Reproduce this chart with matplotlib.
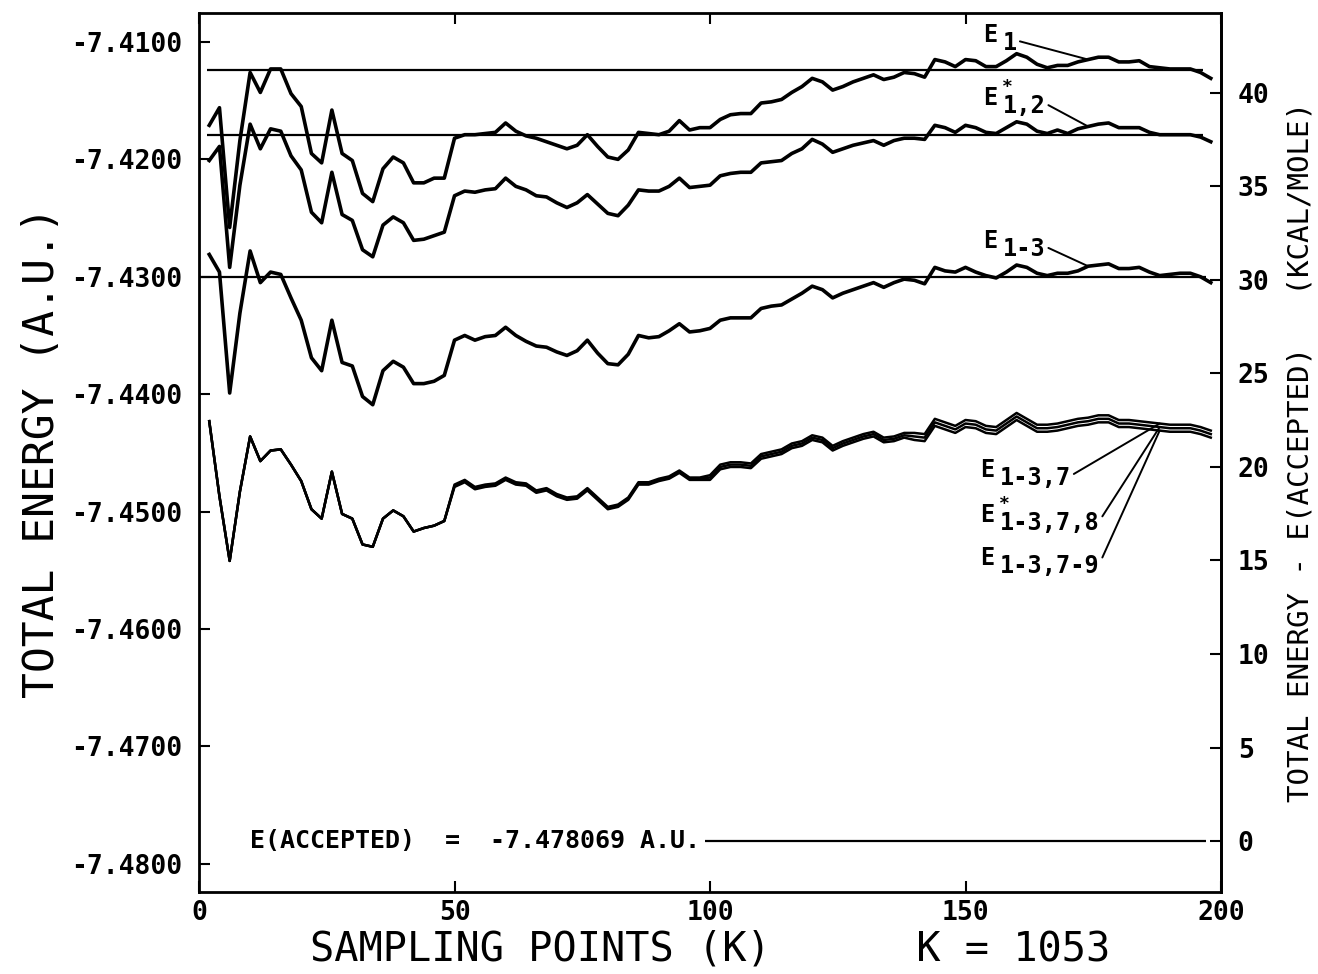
import numpy as np
import matplotlib.pyplot as plt
from matplotlib.ticker import FormatStrFormatter
from matplotlib.transforms import offset_copy

plt.rcParams["font.family"] = "DejaVu Sans Mono"
plt.rcParams["axes.unicode_minus"] = False

# sampling points K (every 2nd point)
K = np.arange(2, 199, 2)

E_ACC = -7.478069          # accepted total energy, a.u.
HARTREE_KCAL = 627.5       # kcal/mol per hartree

# final (converged) values, drawn as horizontal reference lines
E1_FINAL = -7.41235
E12_FINAL = -7.4179
E13_FINAL = -7.4300

E1 = [-7.4171, -7.4156, -7.4258, -7.4184, -7.4126, -7.4143, -7.4123, -7.4123, -7.4144, -7.4155,
      -7.4195, -7.4203, -7.4158, -7.4195, -7.4201, -7.4229, -7.4236, -7.4208, -7.4198, -7.4203,
      -7.4220, -7.4220, -7.4216, -7.4216, -7.4182, -7.4179, -7.4179, -7.4178, -7.4177, -7.4169,
      -7.4176, -7.4180, -7.4182, -7.4185, -7.4188, -7.4191, -7.4188, -7.4179, -7.4189, -7.4198,
      -7.4200, -7.4192, -7.4177, -7.4178, -7.4179, -7.4176, -7.4167, -7.4175, -7.4173, -7.4173,
      -7.4166, -7.4162, -7.4161, -7.4161, -7.4152, -7.4151, -7.4149, -7.4143, -7.4138, -7.4131,
      -7.4134, -7.4141, -7.4138, -7.4134, -7.4131, -7.4128, -7.4132, -7.4130, -7.4126, -7.4127,
      -7.4130, -7.4115, -7.4117, -7.4121, -7.4115, -7.4116, -7.4121, -7.4121, -7.4116, -7.4110,
      -7.4113, -7.4119, -7.4122, -7.4120, -7.4120, -7.4117, -7.4115, -7.4113, -7.4113, -7.4117,
      -7.4117, -7.4116, -7.4121, -7.4122, -7.4123, -7.4123, -7.4123, -7.4126, -7.4131]

E12 = [-7.4201, -7.4189, -7.4292, -7.4222, -7.4170, -7.4191, -7.4174, -7.4176, -7.4197, -7.4209,
       -7.4245, -7.4254, -7.4211, -7.4247, -7.4252, -7.4277, -7.4283, -7.4256, -7.4249, -7.4254,
       -7.4269, -7.4268, -7.4265, -7.4262, -7.4231, -7.4227, -7.4228, -7.4226, -7.4225, -7.4216,
       -7.4223, -7.4226, -7.4231, -7.4232, -7.4237, -7.4241, -7.4237, -7.4230, -7.4238, -7.4246,
       -7.4248, -7.4239, -7.4226, -7.4227, -7.4227, -7.4223, -7.4216, -7.4224, -7.4223, -7.4222,
       -7.4214, -7.4212, -7.4211, -7.4211, -7.4203, -7.4202, -7.4201, -7.4195, -7.4191, -7.4183,
       -7.4187, -7.4194, -7.4191, -7.4188, -7.4186, -7.4184, -7.4188, -7.4184, -7.4182, -7.4182,
       -7.4183, -7.4171, -7.4173, -7.4177, -7.4171, -7.4173, -7.4177, -7.4178, -7.4173, -7.4168,
       -7.4170, -7.4176, -7.4178, -7.4175, -7.4178, -7.4174, -7.4172, -7.4170, -7.4169, -7.4173,
       -7.4173, -7.4173, -7.4177, -7.4179, -7.4179, -7.4179, -7.4179, -7.4181, -7.4185]

E13 = [-7.4281, -7.4296, -7.4399, -7.4331, -7.4278, -7.4305, -7.4296, -7.4298, -7.4318, -7.4337,
       -7.4369, -7.4380, -7.4337, -7.4373, -7.4376, -7.4402, -7.4409, -7.4380, -7.4372, -7.4377,
       -7.4391, -7.4391, -7.4389, -7.4384, -7.4354, -7.4350, -7.4354, -7.4351, -7.4350, -7.4343,
       -7.4350, -7.4355, -7.4359, -7.4360, -7.4364, -7.4367, -7.4363, -7.4354, -7.4365, -7.4374,
       -7.4375, -7.4366, -7.4350, -7.4352, -7.4351, -7.4346, -7.4340, -7.4347, -7.4346, -7.4344,
       -7.4337, -7.4335, -7.4335, -7.4335, -7.4327, -7.4325, -7.4324, -7.4319, -7.4314, -7.4308,
       -7.4311, -7.4318, -7.4314, -7.4311, -7.4308, -7.4305, -7.4309, -7.4305, -7.4302, -7.4303,
       -7.4306, -7.4292, -7.4295, -7.4296, -7.4292, -7.4296, -7.4299, -7.4301, -7.4296, -7.4290,
       -7.4292, -7.4297, -7.4299, -7.4297, -7.4297, -7.4295, -7.4291, -7.4290, -7.4289, -7.4293,
       -7.4293, -7.4292, -7.4296, -7.4299, -7.4298, -7.4297, -7.4297, -7.4300, -7.4305]

E137 = [-7.4423, -7.4487, -7.4542, -7.4483, -7.4436, -7.4457, -7.4448, -7.4447, -7.4460, -7.4474,
        -7.4498, -7.4506, -7.4466, -7.4502, -7.4506, -7.4528, -7.4530, -7.4506, -7.4499, -7.4504,
        -7.4517, -7.4514, -7.4512, -7.4508, -7.4477, -7.4473, -7.4479, -7.4477, -7.4476, -7.4471,
        -7.4475, -7.4476, -7.4482, -7.4480, -7.4485, -7.4488, -7.4487, -7.4480, -7.4488, -7.4496,
        -7.4494, -7.4488, -7.4475, -7.4475, -7.4472, -7.4470, -7.4465, -7.4471, -7.4471, -7.4469,
        -7.4460, -7.4458, -7.4458, -7.4459, -7.4451, -7.4449, -7.4447, -7.4442, -7.4440, -7.4435,
        -7.4437, -7.4444, -7.4440, -7.4437, -7.4434, -7.4432, -7.4437, -7.4436, -7.4433, -7.4433,
        -7.4434, -7.4421, -7.4424, -7.4427, -7.4422, -7.4423, -7.4427, -7.4428, -7.4422, -7.4416,
        -7.4421, -7.4426, -7.4426, -7.4425, -7.4423, -7.4421, -7.4420, -7.4418, -7.4418, -7.4422,
        -7.4422, -7.4423, -7.4424, -7.4425, -7.4426, -7.4426, -7.4426, -7.4428, -7.4431]

E1378 = [-7.4423, -7.4487, -7.4542, -7.4483, -7.4436, -7.4457, -7.4448, -7.4447, -7.4460, -7.4474,
         -7.4498, -7.4506, -7.4466, -7.4502, -7.4506, -7.4528, -7.4530, -7.4506, -7.4499, -7.4504,
         -7.4517, -7.4514, -7.4512, -7.4508, -7.4478, -7.4474, -7.4480, -7.4478, -7.4477, -7.4472,
         -7.4476, -7.4477, -7.4483, -7.4481, -7.4486, -7.4489, -7.4488, -7.4481, -7.4489, -7.4497,
         -7.4495, -7.4489, -7.4476, -7.4476, -7.4473, -7.4471, -7.4466, -7.4472, -7.4472, -7.4471,
         -7.4462, -7.4460, -7.4460, -7.4461, -7.4453, -7.4451, -7.4449, -7.4444, -7.4442, -7.4437,
         -7.4439, -7.4446, -7.4442, -7.4439, -7.4436, -7.4434, -7.4439, -7.4438, -7.4435, -7.4436,
         -7.4437, -7.4424, -7.4427, -7.4430, -7.4425, -7.4426, -7.4430, -7.4431, -7.4425, -7.4419,
         -7.4424, -7.4429, -7.4429, -7.4428, -7.4426, -7.4424, -7.4423, -7.4421, -7.4421, -7.4425,
         -7.4425, -7.4426, -7.4427, -7.4428, -7.4429, -7.4429, -7.4429, -7.4431, -7.4434]

E1379 = [-7.4423, -7.4487, -7.4542, -7.4483, -7.4436, -7.4457, -7.4448, -7.4447, -7.4460, -7.4474,
         -7.4498, -7.4506, -7.4466, -7.4502, -7.4506, -7.4528, -7.4530, -7.4506, -7.4499, -7.4504,
         -7.4517, -7.4514, -7.4512, -7.4508, -7.4479, -7.4475, -7.4481, -7.4479, -7.4478, -7.4473,
         -7.4477, -7.4478, -7.4484, -7.4482, -7.4487, -7.4490, -7.4489, -7.4482, -7.4490, -7.4498,
         -7.4496, -7.4490, -7.4477, -7.4477, -7.4474, -7.4472, -7.4467, -7.4473, -7.4473, -7.4473,
         -7.4464, -7.4462, -7.4462, -7.4463, -7.4455, -7.4453, -7.4451, -7.4446, -7.4444, -7.4439,
         -7.4441, -7.4448, -7.4444, -7.4441, -7.4438, -7.4436, -7.4441, -7.4440, -7.4437, -7.4439,
         -7.4440, -7.4427, -7.4430, -7.4433, -7.4428, -7.4429, -7.4433, -7.4434, -7.4428, -7.4422,
         -7.4427, -7.4432, -7.4432, -7.4431, -7.4429, -7.4427, -7.4426, -7.4424, -7.4424, -7.4428,
         -7.4428, -7.4429, -7.4430, -7.4431, -7.4432, -7.4432, -7.4432, -7.4434, -7.4437]

Y_TICKS = [-7.48, -7.47, -7.46, -7.45, -7.44, -7.43, -7.42, -7.41]
X_TICKS = [0, 50, 100, 150, 200]
KCAL_TICKS = [0, 5, 10, 15, 20, 25, 30, 35, 40]

fig = plt.figure(figsize=(13.18, 9.74), dpi=100)
ax = fig.add_axes([0.151, 0.0842, 0.7754, 0.9025])

# reference lines for the converged energies
ax.hlines(E1_FINAL, 1.5, 196.5, color="black", lw=1.6)
ax.hlines(E12_FINAL, 1.5, 196.5, color="black", lw=1.6)
ax.hlines(E13_FINAL, 0, 197, color="black", lw=1.6)

ax.plot(K, E1, color="black", lw=2.6)
ax.plot(K, E12, color="black", lw=2.6)
ax.plot(K, E13, color="black", lw=2.6)
for series in (E137, E1378, E1379):
    ax.plot(K, series, color="black", lw=1.8)

ax.set_xlim(0, 200)
ax.set_ylim(-7.4824, -7.40753)
ax.set_xticks(X_TICKS)
ax.set_yticks(Y_TICKS)
ax.yaxis.set_major_formatter(FormatStrFormatter("%.4f"))
ax.tick_params(axis="y", direction="in", length=8, width=1.5, pad=12,
               labelsize=19, right=False)
ax.tick_params(axis="x", direction="in", length=8, width=1.5, pad=6,
               labelsize=19, top=True)
for lab in ax.get_xticklabels() + ax.get_yticklabels():
    lab.set_fontweight("bold")
for sp in ax.spines.values():
    sp.set_linewidth(2)

ax.set_xlabel("SAMPLING POINTS (K)      K = 1053", fontsize=29, labelpad=2)
ax.set_ylabel("TOTAL ENERGY (A.U.)", fontsize=31, labelpad=6)

# right-hand axis: energy above the accepted value in kcal/mol
sec = ax.secondary_yaxis(
    "right",
    functions=(lambda e: (e - E_ACC) * HARTREE_KCAL,
               lambda k: E_ACC + k / HARTREE_KCAL),
)
sec.set_yticks(KCAL_TICKS)
sec.tick_params(direction="in", length=8, width=1.5, pad=12, labelsize=19)
for lab in sec.get_yticklabels():
    lab.set_fontweight("bold")
sec.spines["right"].set_linewidth(2)
sec.set_ylabel("TOTAL ENERGY - E(ACCEPTED)   (KCAL/MOLE)", fontsize=21,
               labelpad=12)

# accepted energy line with its label
acc_txt = ax.text(10, E_ACC, "E(ACCEPTED)  =  -7.478069 A.U.", fontsize=18,
                  fontweight="bold", va="center", ha="left")
fig.canvas.draw()
bb = acc_txt.get_window_extent()
x_end = ax.transData.inverted().transform((bb.x1, bb.y0))[0]
ax.hlines(E_ACC, x_end + 1, 197, color="black", lw=1.6)


def energy_label(x, y, sub, target, star=False):
    ax.text(x, y, "E", fontsize=17, fontweight="bold", va="baseline", ha="left")
    sub_tr = offset_copy(ax.transData, fig=fig, x=14.4, y=-5.8, units="points")
    ax.annotate(sub, xy=target, xycoords="data", xytext=(x, y),
                textcoords=sub_tr, fontsize=17, fontweight="bold",
                va="baseline", ha="left",
                arrowprops=dict(arrowstyle="-", color="black", lw=1.4,
                                shrinkA=0, shrinkB=0, relpos=(1.0, 0.6)))
    if star:
        star_tr = offset_copy(ax.transData, fig=fig, x=17.5, y=13, units="points")
        ax.text(x, y, "*", transform=star_tr, fontsize=13, fontweight="bold",
                ha="center", va="center")


energy_label(153.4, -7.4100, "1", (174, E1[86]))
energy_label(153.4, -7.41537, "1,2", (174, E12[86]), star=True)
energy_label(153.4, -7.42755, "1-3", (174, E13[86]))
energy_label(152.8, -7.44705, "1-3,7", (188, E137[93]))
energy_label(152.8, -7.45089, "1-3,7,8", (188, E1378[93]), star=True)
energy_label(152.8, -7.45455, "1-3,7-9", (188, E1379[93]))

fig.savefig("out.png", dpi=100)
